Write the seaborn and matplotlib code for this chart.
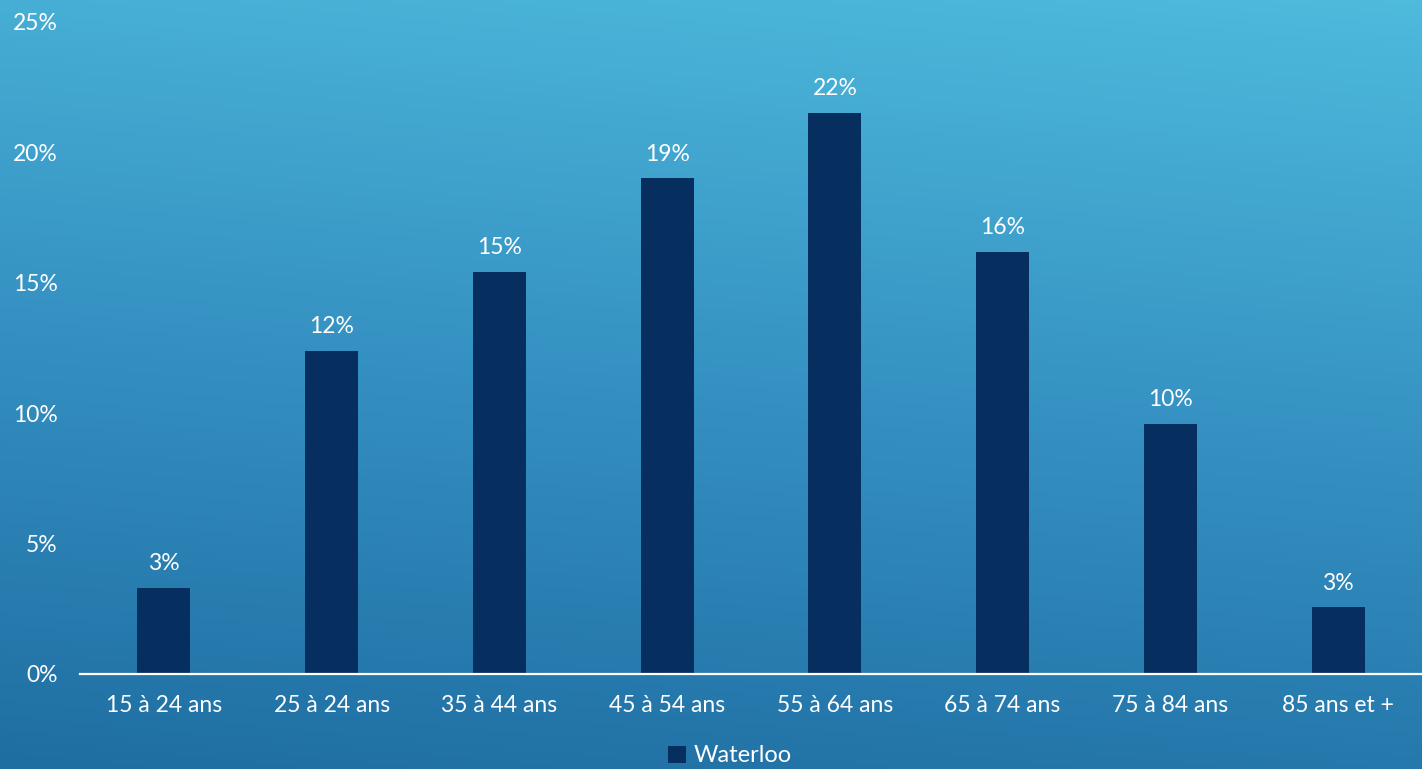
import numpy as np
import pandas as pd
import matplotlib
matplotlib.use("Agg")
import matplotlib.pyplot as plt
import seaborn as sns
from matplotlib.colors import LinearSegmentedColormap
from matplotlib.patches import Patch
from matplotlib.ticker import FuncFormatter, MultipleLocator

categories = ["15 à 24 ans", "25 à 24 ans", "35 à 44 ans", "45 à 54 ans",
              "55 à 64 ans", "65 à 74 ans", "75 à 84 ans", "85 ans et +"]
values = [3.3, 12.4, 15.4, 19.0, 21.5, 16.2, 9.6, 2.55]
series_name = "Waterloo"

BAR_COLOR = "#062e5e"
TEXT_COLOR = "white"
FS = 16.5

df = pd.DataFrame({"age": categories, "pct": values})

sns.set_theme(style="white")
plt.rcParams["font.family"] = ["Lato", "DejaVu Sans"]

fig = plt.figure(figsize=(14.22, 7.69), dpi=100)

# background gradient (light top-right -> darker bottom-left)
bg = fig.add_axes([0, 0, 1, 1], zorder=0)
ny, nx = 200, 400
yy, xx = np.mgrid[0:1:ny * 1j, 0:1:nx * 1j]
t = 0.85 * yy + 0.15 * xx
cmap = LinearSegmentedColormap.from_list("bg", ["#1f6ea2", "#3591c2", "#4ebadc"])
bg.imshow(t, cmap=cmap, aspect="auto", origin="lower", extent=[0, 1, 0, 1])
bg.set_axis_off()

ax = fig.add_axes([80 / 1422, 1 - 674 / 769, 1 - 80 / 1422, (674 - 22) / 769], zorder=1)
ax.patch.set_alpha(0)
sns.barplot(data=df, x="age", y="pct", color=BAR_COLOR, width=0.315,
            saturation=1, linewidth=0, ax=ax)

ax.set_ylim(0, 25)
ax.set_xlim(-0.5, len(categories) - 0.5)
ax.yaxis.set_major_locator(MultipleLocator(5))
ax.yaxis.set_major_formatter(FuncFormatter(lambda v, p: f"{v:.0f}%"))
ax.set_xlabel("")
ax.set_ylabel("")
ax.tick_params(axis="both", length=0, colors=TEXT_COLOR, labelsize=FS)
ax.tick_params(axis="x", pad=15)
ax.tick_params(axis="y", pad=16)

for s in ["top", "right", "left"]:
    ax.spines[s].set_visible(False)
ax.spines["bottom"].set_color("white")
ax.spines["bottom"].set_linewidth(1.6)

for cont in ax.containers:
    ax.bar_label(cont, labels=[f"{v:.0f}%" for v in values], padding=10,
                 color=TEXT_COLOR, fontsize=FS)

handle = Patch(facecolor=BAR_COLOR, edgecolor="none")
fig.legend([handle], [series_name], loc="center", bbox_to_anchor=(730 / 1422, 1 - 756 / 769),
           frameon=False, fontsize=FS + 0.5, labelcolor=TEXT_COLOR, handlelength=0.75,
           handleheight=0.75, handletextpad=0.35)

fig.savefig("out.png", dpi=100)
